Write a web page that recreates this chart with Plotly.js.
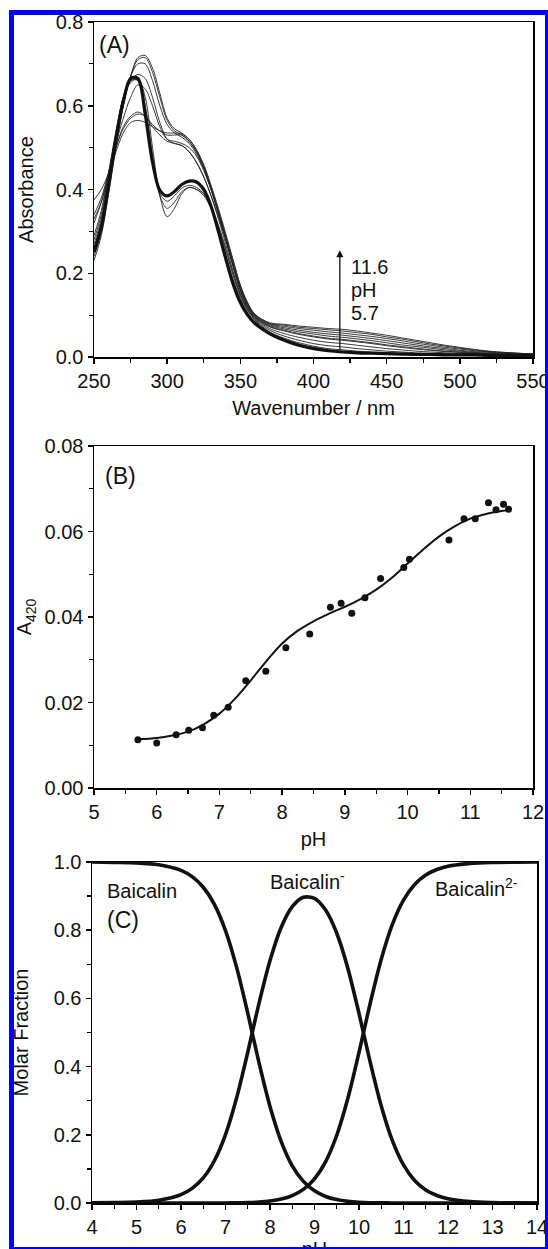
<!DOCTYPE html>
<html><head><meta charset="utf-8">
<script src="https://cdn.plot.ly/plotly-3.0.1.min.js"></script>
<style>
html,body{margin:0;padding:0;background:#fff;overflow:hidden;width:548px;height:1249px;}
#chart{width:548px;height:1270px;}
#frame{position:absolute;left:9px;top:10px;width:541px;height:1242px;border:5px solid #0000ff;box-sizing:border-box;pointer-events:none;}
</style></head><body>
<div id="chart"></div><div id="frame"></div>
<script>
// ---------- Panel A: UV-Vis spectra ----------
const wavelength = [250,255,260,265,270,275,280,285,290,295,300,305,310,315,320,325,330,335,340,345,350,355,360,
  370,380,390,400,410,420,430,440,450,460,470,480,490,500,510,520,530,540,550];
const spec_pH5_7 = [0.25,0.31,0.41,0.52,0.61,0.665,0.665,0.58,0.465,0.398,0.385,0.395,0.412,0.42,0.418,0.4,0.36,0.3,0.235,0.175,0.13,0.1,0.08,
  0.056,0.04,0.028,0.02,0.015,0.012,0.010,0.009,0.008,0.007,0.006,0.006,0.005,0.005,0.005,0.004,0.004,0.004,0.004];
const spec_pH6_3 = [0.26,0.32,0.42,0.53,0.62,0.665,0.66,0.585,0.47,0.39,0.372,0.385,0.403,0.41,0.405,0.39,0.355,0.305,0.245,0.185,0.14,0.105,0.085,
  0.058,0.042,0.031,0.023,0.017,0.014,0.012,0.010,0.009,0.008,0.007,0.006,0.006,0.005,0.005,0.005,0.004,0.004,0.004];
const spec_pH6_9 = [0.27,0.33,0.43,0.535,0.62,0.66,0.66,0.6,0.48,0.385,0.355,0.37,0.395,0.405,0.4,0.385,0.355,0.31,0.255,0.195,0.145,0.11,0.088,
  0.06,0.045,0.034,0.026,0.020,0.017,0.014,0.012,0.010,0.009,0.008,0.007,0.006,0.006,0.005,0.005,0.005,0.004,0.004];
const spec_pH7_4 = [0.28,0.34,0.44,0.54,0.62,0.655,0.665,0.62,0.5,0.385,0.335,0.355,0.39,0.405,0.4,0.39,0.36,0.315,0.26,0.2,0.15,0.113,0.09,
  0.064,0.05,0.04,0.032,0.027,0.024,0.020,0.017,0.014,0.012,0.010,0.009,0.008,0.007,0.006,0.006,0.005,0.005,0.005];
const spec_pH8_1 = [0.375,0.40,0.44,0.5,0.55,0.575,0.585,0.575,0.55,0.53,0.515,0.51,0.505,0.49,0.465,0.43,0.385,0.33,0.27,0.205,0.15,0.115,0.092,
  0.068,0.056,0.047,0.04,0.035,0.032,0.028,0.024,0.02,0.017,0.014,0.012,0.010,0.009,0.008,0.007,0.006,0.005,0.005];
const spec_pH8_8 = [0.34,0.38,0.44,0.5,0.545,0.57,0.58,0.575,0.555,0.54,0.53,0.53,0.53,0.515,0.49,0.45,0.4,0.34,0.28,0.215,0.157,0.118,0.094,
  0.072,0.062,0.054,0.048,0.043,0.04,0.036,0.032,0.027,0.023,0.019,0.016,0.013,0.011,0.009,0.008,0.007,0.006,0.005];
const spec_pH9_1 = [0.33,0.37,0.43,0.49,0.535,0.56,0.565,0.56,0.55,0.54,0.535,0.535,0.533,0.52,0.495,0.455,0.405,0.345,0.285,0.22,0.16,0.12,0.095,
  0.073,0.064,0.056,0.05,0.045,0.042,0.038,0.034,0.029,0.025,0.021,0.017,0.014,0.012,0.010,0.008,0.007,0.006,0.005];
const spec_pH9_6 = [0.32,0.37,0.44,0.51,0.57,0.62,0.65,0.64,0.6,0.55,0.52,0.515,0.51,0.5,0.48,0.445,0.4,0.345,0.285,0.22,0.162,0.122,0.097,
  0.075,0.067,0.06,0.055,0.05,0.047,0.043,0.039,0.034,0.029,0.025,0.021,0.017,0.014,0.011,0.009,0.008,0.007,0.006];
const spec_pH10_0 = [0.29,0.35,0.44,0.53,0.61,0.66,0.675,0.665,0.62,0.56,0.52,0.51,0.505,0.49,0.465,0.43,0.385,0.335,0.28,0.22,0.163,0.123,0.098,
  0.077,0.07,0.064,0.059,0.055,0.052,0.048,0.044,0.039,0.034,0.029,0.024,0.020,0.016,0.013,0.011,0.009,0.007,0.006];
const spec_pH10_7 = [0.26,0.32,0.42,0.52,0.61,0.67,0.7,0.7,0.66,0.6,0.555,0.535,0.525,0.51,0.485,0.45,0.4,0.345,0.285,0.225,0.167,0.126,0.1,
  0.079,0.073,0.068,0.064,0.06,0.057,0.053,0.049,0.044,0.039,0.033,0.028,0.023,0.019,0.015,0.012,0.01,0.008,0.007];
const spec_pH11_1 = [0.24,0.3,0.4,0.51,0.6,0.67,0.71,0.715,0.68,0.62,0.565,0.54,0.53,0.515,0.49,0.455,0.405,0.35,0.29,0.23,0.17,0.128,0.101,
  0.08,0.076,0.071,0.068,0.065,0.062,0.058,0.054,0.048,0.043,0.037,0.031,0.026,0.021,0.017,0.013,0.011,0.009,0.007];
const spec_pH11_6 = [0.23,0.29,0.39,0.5,0.6,0.67,0.715,0.72,0.69,0.63,0.57,0.545,0.535,0.52,0.495,0.46,0.41,0.355,0.295,0.233,0.172,0.13,0.102,
  0.082,0.078,0.074,0.071,0.068,0.066,0.062,0.057,0.052,0.046,0.040,0.034,0.028,0.023,0.018,0.014,0.011,0.009,0.007];

// ---------- Panel B: A420 vs pH ----------
const pH_points = [5.70,6.00,6.31,6.51,6.73,6.91,7.14,7.42,7.74,8.06,8.44,8.77,8.94,9.11,9.32,9.57,9.94,10.03,10.66,10.90,11.08,11.29,11.41,11.53,11.61];
const A420_points = [0.0113,0.0105,0.01245,0.0135,0.0141,0.0170,0.0189,0.0251,0.0273,0.0328,0.0360,0.0423,0.0432,0.0409,0.0445,0.0490,0.0516,0.0535,0.0580,0.0630,0.0630,0.0667,0.0651,0.0664,0.0652];
const pH_fit = [5.7,6.0,6.25,6.5,6.75,7.0,7.25,7.5,7.75,8.0,8.25,8.5,8.75,9.0,9.25,9.5,9.75,10.0,10.25,10.5,10.75,11.0,11.25,11.5,11.6];
const A420_fit = [0.0114,0.0117,0.0123,0.0132,0.0149,0.0174,0.0209,0.0252,0.0297,0.0338,0.0368,0.0390,0.0408,0.0424,0.0442,0.0464,0.0492,0.0525,0.0558,0.0588,0.0612,0.0630,0.0641,0.0648,0.0650];

// ---------- Panel C: species distribution ----------
const pH_dist = [4,4.5,5,5.5,6,6.25,6.5,6.75,7,7.25,7.5,7.75,8,8.25,8.5,8.75,9,9.25,9.5,9.75,10,10.25,10.5,10.75,11,11.25,11.5,11.75,12,12.5,13,13.5,14];
const frac_baicalin = [1.0,0.999,0.9975,0.992,0.9755,0.957,0.926,0.876,0.799,0.691,0.557,0.413,0.283,0.181,0.109,0.0635,0.0356,0.0192,0.0100,0.0049,0.0022,0.0009,0.0004,0.0001,0,0,0,0,0,0,0,0,0];
const frac_baicalin1 = [0.0003,0.001,0.0025,0.0078,0.0245,0.043,0.0735,0.124,0.2006,0.3086,0.442,0.584,0.711,0.808,0.869,0.8966,0.8935,0.859,0.791,0.688,0.556,0.414,0.2847,0.183,0.1118,0.0661,0.0383,0.0219,0.0124,0.004,0.0013,0.0004,0.0001];
const frac_baicalin2 = [0,0,0,0,0,0,0,0.0001,0.0002,0.0004,0.0011,0.0026,0.0057,0.0114,0.0218,0.040,0.071,0.1214,0.1987,0.307,0.4417,0.585,0.715,0.817,0.888,0.934,0.9617,0.978,0.9876,0.996,0.9987,0.9996,0.9999];

const FONT = 'Liberation Sans, Arial, Helvetica, sans-serif';
const INK = '#111';
const W = 548, H = 1270;

const spectra = [
  ['pH 6.3', spec_pH6_3], ['pH 6.9', spec_pH6_9], ['pH 7.4', spec_pH7_4], ['pH 8.1', spec_pH8_1],
  ['pH 8.8', spec_pH8_8], ['pH 9.1', spec_pH9_1], ['pH 9.6', spec_pH9_6], ['pH 10.0', spec_pH10_0],
  ['pH 10.7', spec_pH10_7], ['pH 11.1', spec_pH11_1], ['pH 11.6', spec_pH11_6]
];
const traces = spectra.map(([n, y]) => ({
  x: wavelength, y: y, name: n, type: 'scatter', mode: 'lines',
  line: {color: '#222', width: 0.9, shape: 'spline', smoothing: 0.9}, xaxis: 'x', yaxis: 'y'
}));
traces.push({x: wavelength, y: spec_pH5_7, name: 'pH 5.7', type: 'scatter', mode: 'lines',
  line: {color: INK, width: 3.2, shape: 'spline', smoothing: 0.9}, xaxis: 'x', yaxis: 'y'});

traces.push({x: pH_fit, y: A420_fit, type: 'scatter', mode: 'lines', name: 'fit',
  line: {color: INK, width: 2, shape: 'spline'}, xaxis: 'x2', yaxis: 'y2'});
traces.push({x: pH_points, y: A420_points, type: 'scatter', mode: 'markers', name: 'A420',
  marker: {color: INK, size: 7}, xaxis: 'x2', yaxis: 'y2'});

[frac_baicalin, frac_baicalin1, frac_baicalin2].forEach((f, i) => traces.push({
  x: pH_dist, y: f, type: 'scatter', mode: 'lines', name: ['Baicalin','Baicalin-','Baicalin2-'][i],
  line: {color: INK, width: 3.6, shape: 'spline', smoothing: 0.8}, xaxis: 'x3', yaxis: 'y3'
}));

function ax(extra) {
  return Object.assign({
    showline: true, linecolor: '#000', linewidth: 1.5, mirror: true,
    ticks: 'outside', ticklen: 5, tickwidth: 1.5, tickcolor: '#000',
    showgrid: false, zeroline: false, automargin: false, fixedrange: true,
    ticklabeloverflow: 'allow',
    tickfont: {family: FONT, size: 20, color: INK}
  }, extra);
}
function minor(d) { return {ticks: 'outside', ticklen: 4, tickwidth: 1.2, tickcolor: '#000', dtick: d, showgrid: false}; }
function ttl(t, s) { return {text: t, font: {family: FONT, size: 20, color: INK}, standoff: s}; }

// panel positions in page pixels
const yA = [1 - 357/H, 1 - 22/H];
const yB = [1 - 788/H, 1 - 446/H];
const yC = [1 - 1203/H, 1 - 862/H];
const xAB = [94/W, 533/W];
const xC = [92/W, 537/W];

const anno = (x, y, text, ref, opts) => Object.assign({
  x: x, y: y, text: text, xref: 'x' + ref, yref: 'y' + ref, showarrow: false,
  font: {family: FONT, size: 20, color: INK}
}, opts || {});

const layout = {
  width: W, height: H,
  margin: {l: 0, r: 0, t: 0, b: 0},
  paper_bgcolor: '#fff', plot_bgcolor: '#fff', showlegend: false,
  xaxis: ax({domain: xAB, anchor: 'y', range: [250, 550], dtick: 50, tick0: 250, minor: minor(25), title: ttl('Wavenumber / nm', 10)}),
  yaxis: ax({domain: yA, anchor: 'x', range: [0, 0.8], dtick: 0.2, tickformat: '.1f', minor: minor(0.1), title: ttl('Absorbance', 16)}),
  xaxis2: ax({domain: xAB, anchor: 'y2', range: [5, 12], dtick: 1, minor: minor(0.5), title: ttl('pH', 10)}),
  yaxis2: ax({domain: yB, anchor: 'x2', range: [0, 0.08], dtick: 0.02, tickformat: '.2f', minor: minor(0.01), title: ttl('A<sub>420</sub>', 7)}),
  xaxis3: ax({domain: xC, anchor: 'y3', range: [4, 14], dtick: 1, minor: minor(0.5), title: ttl('pH', 2)}),
  yaxis3: ax({domain: yC, anchor: 'x3', range: [0, 1], dtick: 0.2, tickformat: '.1f', minor: minor(0.1), title: ttl('Molar Fraction', 19)}),
  annotations: [
    anno(252, 0.745, '(A)', '', {xanchor: 'left', font: {family: FONT, size: 23, color: INK}}),
    {x: 418, y: 0.255, ax: 418, ay: 0.013, xref: 'x', yref: 'y', axref: 'x', ayref: 'y', text: '',
      showarrow: true, arrowhead: 2, arrowsize: 1.1, arrowwidth: 1.3, arrowcolor: INK},
    anno(424, 0.215, '11.6', '', {xanchor: 'left'}),
    anno(424, 0.16, 'pH', '', {xanchor: 'left'}),
    anno(424, 0.105, '5.7', '', {xanchor: 'left'}),
    anno(5.15, 0.073, '(B)', '2', {xanchor: 'left', font: {family: FONT, size: 23, color: INK}}),
    anno(4.3, 0.915, 'Baicalin', '3', {xanchor: 'left'}),
    anno(4.3, 0.83, '(C)', '3', {xanchor: 'left', font: {family: FONT, size: 23, color: INK}}),
    anno(8.85, 0.947, 'Baicalin<sup>-</sup>', '3', {xanchor: 'center'}),
    anno(13.62, 0.925, 'Baicalin<sup>2-</sup>', '3', {xanchor: 'right'})
  ]
};

Plotly.newPlot('chart', traces, layout, {staticPlot: true, displayModeBar: false});
</script></body></html>
